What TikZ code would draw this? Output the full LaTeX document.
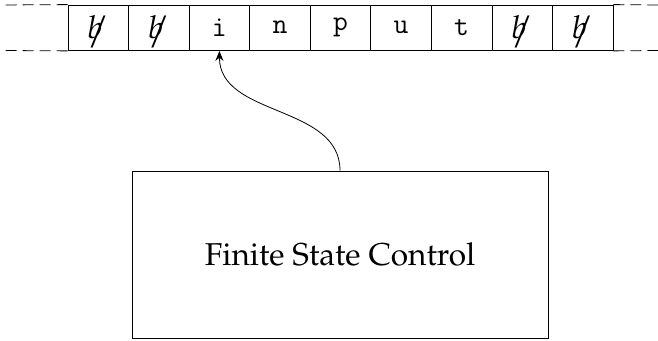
\documentclass[tikz,border=0pt]{standalone}
\usepackage[T1]{fontenc}
\usepackage{mathpazo}
\usetikzlibrary{arrows.meta}

\tikzset{
  cell/.style={draw, minimum width=30.28pt, minimum height=22.75pt, inner sep=0pt,
    font=\fontencoding{OT1}\fontfamily{cmtt}\fontsize{15.8}{19}\selectfont},
  tapeend/.style={dash pattern=on 5.5pt off 3pt},
  control/.style={draw, minimum width=208pt, minimum height=83.5pt, inner sep=0pt, font=\fontsize{15.8}{19}\selectfont},
  head/.style={-{Stealth[length=5pt,width=4pt]}}
}
% blank tape symbol: a struck-through italic b
\newcommand{\blanksym}{\ooalign{\hfil\raisebox{-2.5pt}{\scalebox{1.1}[1.2]{$/$}}\hfil\cr$b$}}

\begin{document}
\begin{tikzpicture}[x=0.5pt, y=-0.5pt]
  \useasboundingbox (0,0) rectangle (658,341);

  % tape cells
  \foreach \k/\s in {1/\blanksym, 2/\blanksym, 3/i, 4/n, 5/p, 6/u, 7/t, 8/\blanksym, 9/\blanksym}
    \node[cell] (c\k) at ({68 + 30.28 + 60.56*(\k-1)}, 27.75) {\s};

  % tape continues off both ends
  \coordinate (lt) at (0,5);
  \coordinate (lb) at (0,50.5);
  \coordinate (rt) at (658,5);
  \coordinate (rb) at (658,50.5);
  \draw[tapeend] (c1.north west) -- (lt);
  \draw[tapeend] (c1.south west) -- (lb);
  \draw[tapeend] (c9.north east) -- (rt);
  \draw[tapeend] (c9.south east) -- (rb);

  % finite state control and its read head
  \node[control] (fsc) at (340,254.5) {Finite State Control};
  \draw[head] (fsc.north) to[out=90, in=-90] (c3.south);
\end{tikzpicture}
\end{document}
